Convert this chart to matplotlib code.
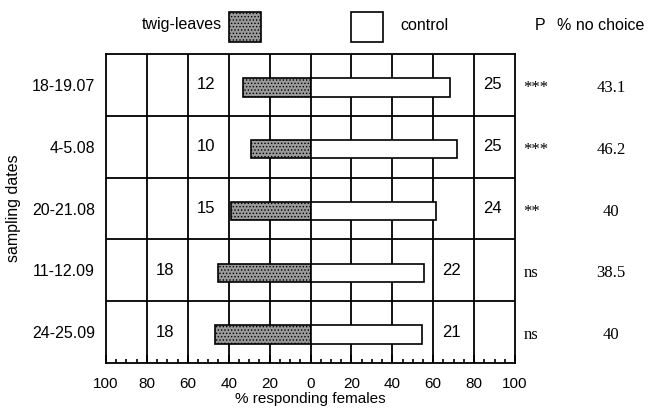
import numpy as np
import matplotlib.pyplot as plt
from matplotlib.patches import Rectangle

# dane
dates = ['18-19.07', '4-5.08', '20-21.08', '11-12.09', '24-25.09']
twig = [33, 29, 39, 45, 46.5]        # % wybierajacych twig-leaves (lewa strona)
control = [68, 71.5, 61.5, 55.5, 54.5]
n_twig = [12, 10, 15, 18, 18]
n_control = [25, 25, 24, 22, 21]
p_vals = ['***', '***', '**', 'ns', 'ns']
no_choice = ['43.1', '46.2', '40', '38.5', '40']
xticks = np.arange(-100, 101, 20)
xticklabels = [str(abs(v)) for v in xticks]

plt.rcParams['font.family'] = ['Liberation Sans', 'DejaVu Sans']
plt.rcParams['hatch.linewidth'] = 0.6
W, H = 655, 411
fig = plt.figure(figsize=(W / 100, H / 100), dpi=100)
ax = fig.add_axes([106 / W, 1 - 363 / H, 409 / W, 309 / H])

y = np.arange(len(dates))
hatch_kw = dict(facecolor='#9a9a9a', edgecolor='black', hatch='.....', linewidth=1.2)
ax.barh(y + 0.04, [-v for v in twig], height=0.3, zorder=3, **hatch_kw)
ax.barh(y + 0.04, control, height=0.3, facecolor='white', edgecolor='black', linewidth=1.2, zorder=3)

for i in range(len(dates)):
    xl = np.floor(-twig[i] / 20) * 20 - 11
    xr = np.ceil(control[i] / 20) * 20 + 9
    ax.text(xl, i, str(n_twig[i]), ha='center', va='center', fontsize=12, zorder=4)
    ax.text(xr, i, str(n_control[i]), ha='center', va='center', fontsize=12, zorder=4)
    ax.text(104, i + 0.05, p_vals[i], ha='left', va='center', fontsize=12,
            family='Liberation Serif', clip_on=False)
    ax.text(147, i + 0.05, no_choice[i], ha='center', va='center', fontsize=12,
            family='Liberation Serif', clip_on=False)

ax.set_xlim(-100, 100)
ax.set_ylim(len(dates) - 0.5, -0.5)
ax.set_xticks(xticks)
ax.set_xticklabels(xticklabels, fontsize=11)
ax.set_xticks(np.arange(-100, 101, 5), minor=True)
ax.set_yticks(y)
ax.set_yticklabels(dates, fontsize=11.5)
ax.tick_params(axis='y', length=0, pad=8)
ax.tick_params(axis='x', which='major', direction='in', length=6, width=1.2, pad=10)
ax.tick_params(axis='x', which='minor', direction='in', length=3, width=1.2)

for v in xticks[1:-1]:
    ax.axvline(v, color='black', linewidth=1.3, zorder=1)
for b in y[:-1] + 0.5:
    ax.axhline(b, color='black', linewidth=1.3, zorder=1)
for s in ax.spines.values():
    s.set_linewidth(1.3)

ax.set_xlabel('% responding females', fontsize=11, labelpad=1)
ax.set_ylabel('sampling dates', fontsize=11.5, labelpad=8)

# legenda na gorze
fig.text(222 / W, 1 - 25 / H, 'twig-leaves', ha='right', va='center', fontsize=11.5)
fig.add_artist(Rectangle((229 / W, 1 - 42 / H), 32 / W, 30 / H,
                         transform=fig.transFigure, **hatch_kw))
fig.add_artist(Rectangle((351 / W, 1 - 42 / H), 32 / W, 30 / H, transform=fig.transFigure,
                         facecolor='white', edgecolor='black', linewidth=1.2))
fig.text(400 / W, 1 - 25 / H, 'control', ha='left', va='center', fontsize=11.5)
fig.text(540 / W, 1 - 25 / H, 'P', ha='center', va='center', fontsize=11.5)
fig.text(557 / W, 1 - 25 / H, '% no choice', ha='left', va='center', fontsize=11.5)

fig.savefig('out.png', dpi=100)
